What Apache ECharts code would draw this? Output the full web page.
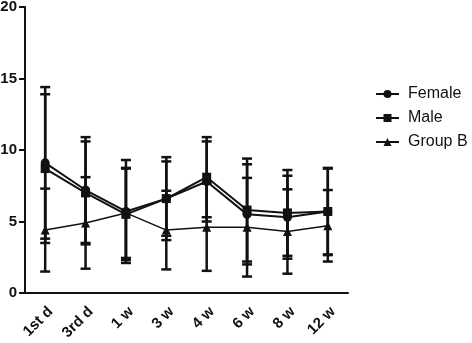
<!DOCTYPE html>
<html>
<head>
<meta charset="utf-8">
<script src="https://cdn.jsdelivr.net/npm/echarts@6/dist/echarts.min.js"></script>
<style>
  html, body { margin: 0; padding: 0; background: #fff; }
  #chart { width: 472px; height: 343px; }
</style>
</head>
<body>
<div id="chart"></div>
<script>
const categories = ['1st d', '3rd d', '1 w', '3 w', '4 w', '6 w', '8 w', '12 w']
const yTicks = [0, 5, 10, 15, 20]

const femaleMean = [9.1, 7.2, 5.7, 6.6, 7.8, 5.5, 5.3, 5.7]
const femaleSD = [5.3, 3.7, 3.6, 2.9, 2.8, 3.5, 2.9, 3.0]
const maleMean = [8.7, 7.0, 5.5, 6.6, 8.1, 5.8, 5.6, 5.7]
const maleSD = [5.2, 3.6, 3.2, 2.6, 2.8, 3.6, 3.0, 3.05]
const groupBMean = [4.4, 4.9, 5.6, 4.4, 4.6, 4.6, 4.3, 4.7]
const groupBSD = [2.9, 3.2, 3.15, 2.75, 3.05, 3.45, 2.95, 2.5]

const font = '"Liberation Sans", Arial, sans-serif'

const errData = (mean, sd) => mean.map((m, i) => [i, m - sd[i], m + sd[i]])

const renderErr = (params, api) => {
  const lo = api.coord([api.value(0), api.value(1)])
  const hi = api.coord([api.value(0), api.value(2)])
  const w = 5
  const style = { stroke: '#111', lineWidth: 2.5 }
  return {
    type: 'group',
    children: [
      { type: 'line', shape: { x1: lo[0], y1: lo[1], x2: hi[0], y2: hi[1] }, style },
      { type: 'line', shape: { x1: lo[0] - w, y1: lo[1], x2: lo[0] + w, y2: lo[1] }, style },
      { type: 'line', shape: { x1: hi[0] - w, y1: hi[1], x2: hi[0] + w, y2: hi[1] }, style }
    ]
  }
}

const errSeries = (mean, sd) => ({
  type: 'custom',
  renderItem: renderErr,
  data: errData(mean, sd),
  encode: { x: 0, y: [1, 2] },
  silent: true,
  z: 1
})

const lineSeries = (name, data, symbol, size, width) => ({
  name,
  type: 'line',
  data,
  symbol,
  symbolSize: size,
  lineStyle: { color: '#111', width },
  itemStyle: { color: '#111' },
  z: 3
})

const chart = echarts.init(document.getElementById('chart'))

chart.setOption({
  animation: false,
  backgroundColor: '#fff',
  grid: { left: 25, right: 124, top: 7, bottom: 50, outerBoundsMode: 'none' },
  legend: {
    orient: 'vertical',
    left: 370,
    top: 81,
    itemWidth: 23,
    itemHeight: 10,
    itemGap: 8,
    data: ['Female', 'Male', 'Group B'],
    textStyle: { fontFamily: font, fontSize: 16, color: '#111', padding: [0, 0, 0, 4] }
  },
  xAxis: {
    type: 'category',
    data: categories,
    axisLine: { lineStyle: { color: '#111', width: 2 } },
    axisTick: { alignWithLabel: true, length: 6, lineStyle: { color: '#111', width: 2 } },
    axisLabel: {
      rotate: 45,
      margin: 11,
      verticalAlign: 'top',
      color: '#111',
      fontFamily: font,
      fontWeight: 'bold',
      fontSize: 15
    }
  },
  yAxis: {
    type: 'value',
    min: yTicks[0],
    max: yTicks[yTicks.length - 1],
    interval: yTicks[1] - yTicks[0],
    splitLine: { show: false },
    axisLine: { show: true, lineStyle: { color: '#111', width: 2 } },
    axisTick: { show: true, length: 6, lineStyle: { color: '#111', width: 2 } },
    axisLabel: {
      margin: 8,
      color: '#111',
      fontFamily: font,
      fontWeight: 'bold',
      fontSize: 15
    }
  },
  series: [
    errSeries(femaleMean, femaleSD),
    errSeries(maleMean, maleSD),
    errSeries(groupBMean, groupBSD),
    lineSeries('Female', femaleMean, 'circle', 9, 2),
    lineSeries('Male', maleMean, 'rect', 9, 2),
    lineSeries('Group B', groupBMean, 'triangle', 9, 1.5)
  ]
})
</script>
</body>
</html>
